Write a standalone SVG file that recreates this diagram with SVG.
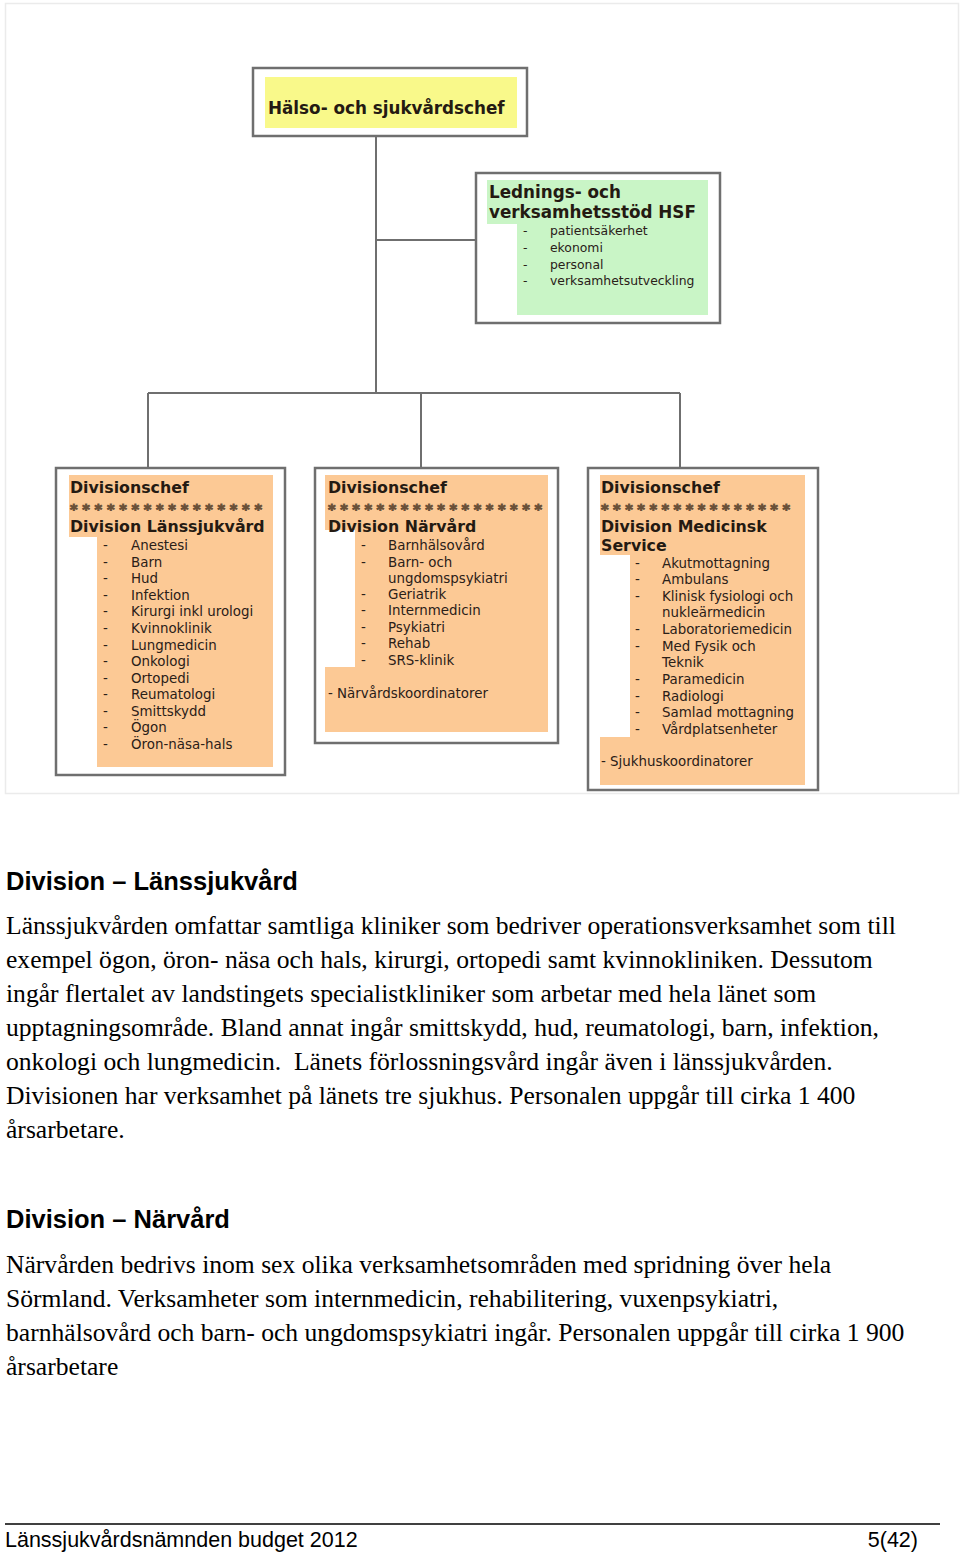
<svg xmlns="http://www.w3.org/2000/svg" width="960" height="1553" viewBox="0 0 960 1553">
<style>
.frame{fill:#fff;stroke:#ebebeb;stroke-width:1.5}
.box{fill:#fff;stroke:#6f6f6f;stroke-width:2.5}
.yel{fill:#f9f98a}
.grn{fill:#c9f5c6}
.org{fill:#fcc995}
.conn{fill:none;stroke:#6f6f6f;stroke-width:2}
.hd{font-family:"DejaVu Sans",Verdana,sans-serif;font-weight:bold;font-size:15.8px;fill:#241a12}
.ttl{font-family:"DejaVu Sans",Verdana,sans-serif;font-weight:bold;font-size:16.8px;fill:#241a12}
.it{font-family:"DejaVu Sans",Verdana,sans-serif;font-size:13.4px;fill:#2a2018}
.itg{font-family:"DejaVu Sans",Verdana,sans-serif;font-size:12.4px;fill:#2a2018}
.ast{font-family:"DejaVu Sans",Verdana,sans-serif;font-weight:bold;font-size:14.5px;fill:#6a5038;stroke:#6a5038;stroke-width:0.9}
.h2{font-family:"Liberation Sans",Arial,sans-serif;font-weight:bold;font-size:25.5px;fill:#000}
.bt{font-family:"Liberation Serif","Times New Roman",serif;font-size:25.6px;fill:#000}
.ft{font-family:"Liberation Sans",Arial,sans-serif;font-size:21.5px;fill:#000}
</style>
<rect width="960" height="1553" fill="#fff"/>
<rect class="frame" x="5.5" y="3.5" width="953" height="790"/>

<g id="connectors">
<path class="conn" d="M376,136 V393"/>
<path class="conn" d="M376,240 H476"/>
<path class="conn" d="M148,393 H680"/>
<path class="conn" d="M148,393 V468"/>
<path class="conn" d="M421,393 V468"/>
<path class="conn" d="M680,393 V468"/>
</g>

<g id="node-halso">
<rect class="box" x="253" y="68" width="274" height="68"/>
<rect class="yel" x="265" y="77" width="252" height="51"/>
<text class="ttl" x="268" y="114">Hälso- och sjukvårdschef</text>
</g>

<g id="node-ledning">
<rect class="box" x="476" y="173" width="244" height="150"/>
<polygon class="grn" points="487,180 708,180 708,315 517,315 517,224 487,224"/>
<text class="ttl" x="489" y="198">Lednings- och</text>
<text class="ttl" x="489" y="218">verksamhetsstöd HSF</text>
<g class="itg">
<text x="523" y="235">-</text><text x="550" y="235">patientsäkerhet</text>
<text x="523" y="252">-</text><text x="550" y="252">ekonomi</text>
<text x="523" y="269">-</text><text x="550" y="269">personal</text>
<text x="523" y="285">-</text><text x="550" y="285">verksamhetsutveckling</text>
</g>
</g>

<g id="node-lanssjukvard">
<rect class="box" x="56" y="468" width="229" height="307"/>
<polygon class="org" points="69,475 273,475 273,767 97,767 97,537 69,537"/>
<text class="hd" x="70" y="493">Divisionschef</text>
<text class="ast" x="70" y="513.5" textLength="192" lengthAdjust="spacing">****************</text>
<text class="hd" x="70" y="532">Division Länssjukvård</text>
<g class="it">
<text x="103" y="550">-</text><text x="131" y="550">Anestesi</text>
<text x="103" y="566.6">-</text><text x="131" y="566.6">Barn</text>
<text x="103" y="583.2">-</text><text x="131" y="583.2">Hud</text>
<text x="103" y="599.7">-</text><text x="131" y="599.7">Infektion</text>
<text x="103" y="616.3">-</text><text x="131" y="616.3">Kirurgi inkl urologi</text>
<text x="103" y="632.9">-</text><text x="131" y="632.9">Kvinnoklinik</text>
<text x="103" y="649.5">-</text><text x="131" y="649.5">Lungmedicin</text>
<text x="103" y="666">-</text><text x="131" y="666">Onkologi</text>
<text x="103" y="682.6">-</text><text x="131" y="682.6">Ortopedi</text>
<text x="103" y="699.2">-</text><text x="131" y="699.2">Reumatologi</text>
<text x="103" y="715.8">-</text><text x="131" y="715.8">Smittskydd</text>
<text x="103" y="732.4">-</text><text x="131" y="732.4">Ögon</text>
<text x="103" y="749">-</text><text x="131" y="749">Öron-näsa-hals</text>
</g>
</g>

<g id="node-narvard">
<rect class="box" x="315" y="468" width="243" height="275"/>
<polygon class="org" points="325,475 548,475 548,732 325,732 325,667 355,667 355,530 325,530"/>
<text class="hd" x="328" y="493">Divisionschef</text>
<text class="ast" x="328" y="513.5" textLength="214" lengthAdjust="spacing">******************</text>
<text class="hd" x="328" y="532">Division Närvård</text>
<g class="it">
<text x="361" y="550">-</text><text x="388" y="550">Barnhälsovård</text>
<text x="361" y="567">-</text><text x="388" y="567">Barn- och</text>
<text x="388" y="583">ungdomspsykiatri</text>
<text x="361" y="599">-</text><text x="388" y="599">Geriatrik</text>
<text x="361" y="615">-</text><text x="388" y="615">Internmedicin</text>
<text x="361" y="632">-</text><text x="388" y="632">Psykiatri</text>
<text x="361" y="648">-</text><text x="388" y="648">Rehab</text>
<text x="361" y="665">-</text><text x="388" y="665">SRS-klinik</text>
<text x="328" y="698">- Närvårdskoordinatorer</text>
</g>
</g>

<g id="node-medicinsk">
<rect class="box" x="588" y="468" width="230" height="322"/>
<polygon class="org" points="600,475 805,475 805,785 600,785 600,737 630,737 630,555 600,555"/>
<text class="hd" x="601" y="493">Divisionschef</text>
<text class="ast" x="601" y="513.5" textLength="189" lengthAdjust="spacing">****************</text>
<text class="hd" x="601" y="532">Division Medicinsk</text>
<text class="hd" x="601" y="551">Service</text>
<g class="it">
<text x="635" y="568">-</text><text x="662" y="568">Akutmottagning</text>
<text x="635" y="584">-</text><text x="662" y="584">Ambulans</text>
<text x="635" y="601">-</text><text x="662" y="601">Klinisk fysiologi och</text>
<text x="662" y="617">nukleärmedicin</text>
<text x="635" y="634">-</text><text x="662" y="634">Laboratoriemedicin</text>
<text x="635" y="651">-</text><text x="662" y="651">Med Fysik och</text>
<text x="662" y="667">Teknik</text>
<text x="635" y="684">-</text><text x="662" y="684">Paramedicin</text>
<text x="635" y="701">-</text><text x="662" y="701">Radiologi</text>
<text x="635" y="717">-</text><text x="662" y="717">Samlad mottagning</text>
<text x="635" y="734">-</text><text x="662" y="734">Vårdplatsenheter</text>
<text x="601" y="766">- Sjukhuskoordinatorer</text>
</g>
</g>

<g id="text-lanssjukvard">
<text class="h2" x="6" y="890">Division – Länssjukvård</text>
<text class="bt" x="6" y="934">Länssjukvården omfattar samtliga kliniker som bedriver operationsverksamhet som till</text>
<text class="bt" x="6" y="968">exempel ögon, öron- näsa och hals, kirurgi, ortopedi samt kvinnokliniken. Dessutom</text>
<text class="bt" x="6" y="1002">ingår flertalet av landstingets specialistkliniker som arbetar med hela länet som</text>
<text class="bt" x="6" y="1036">upptagningsområde. Bland annat ingår smittskydd, hud, reumatologi, barn, infektion,</text>
<text class="bt" x="6" y="1070">onkologi och lungmedicin.&#160; Länets förlossningsvård ingår även i länssjukvården.</text>
<text class="bt" x="6" y="1104">Divisionen har verksamhet på länets tre sjukhus. Personalen uppgår till cirka 1 400</text>
<text class="bt" x="6" y="1138">årsarbetare.</text>
</g>

<g id="text-narvard">
<text class="h2" x="6" y="1228">Division – Närvård</text>
<text class="bt" x="6" y="1273">Närvården bedrivs inom sex olika verksamhetsområden med spridning över hela</text>
<text class="bt" x="6" y="1307">Sörmland. Verksamheter som internmedicin, rehabilitering, vuxenpsykiatri,</text>
<text class="bt" x="6" y="1341">barnhälsovård och barn- och ungdomspsykiatri ingår. Personalen uppgår till cirka 1 900</text>
<text class="bt" x="6" y="1375">årsarbetare</text>
</g>

<g id="footer">
<line x1="5" y1="1524" x2="940" y2="1524" stroke="#000" stroke-width="1.5"/>
<text class="ft" x="5" y="1547">Länssjukvårdsnämnden budget 2012</text>
<text class="ft" x="918" y="1547" text-anchor="end">5(42)</text>
</g>
</svg>
